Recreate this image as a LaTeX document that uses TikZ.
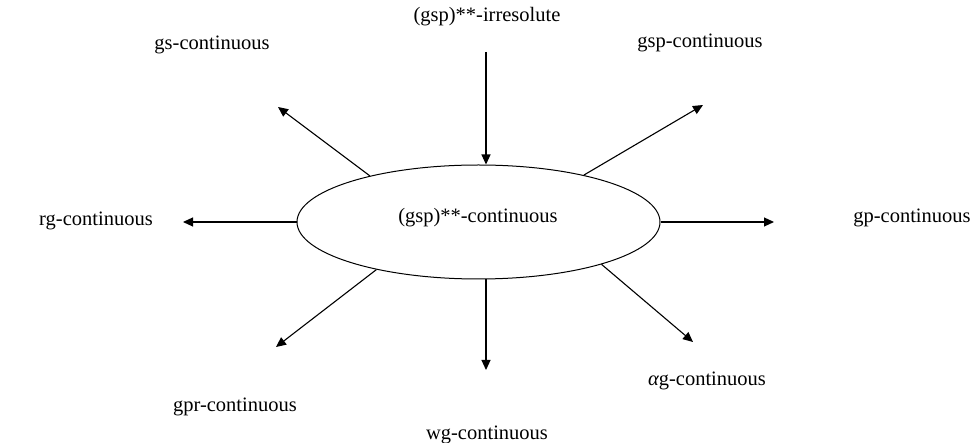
\documentclass[tikz,border=0pt]{standalone}
\usepackage{fontspec}
\setmainfont{Liberation Serif}
\usetikzlibrary{arrows.meta,shapes.geometric}
\begin{document}
\begin{tikzpicture}[x=1pt,y=-1pt,
  lbl/.style={inner sep=0pt,font=\fontsize{20.5}{24}\selectfont},
  arr/.style={line width=1.1pt,-{Triangle[length=10pt,width=9pt]}},
  ell/.style={ellipse,draw,line width=1pt,minimum width=363pt,minimum height=114pt,inner sep=0pt}]
\useasboundingbox (0,0) rectangle (975,443);
\node[ell] (e) at (478.5,222) {};
\node[lbl] (ctr) at (478,218) {(gsp)**-continuous};
\node[lbl] (irr) at (487,17) {(gsp)**-irresolute};
\node[lbl] (gs) at (212,45) {gs-continuous};
\node[lbl] (gsp) at (700,43) {gsp-continuous};
\node[lbl] (rg) at (96,221) {rg-continuous};
\node[lbl] (gp) at (912,218) {gp-continuous};
\node[lbl] (gpr) at (235,407) {gpr-continuous};
\node[lbl] (wg) at (487,435) {wg-continuous};
\node[lbl] (ag) at (707,381) {{\itshape α}g-continuous};
\coordinate (irrs) at (486,52);
\coordinate (gsend) at (278,107);
\coordinate (gspend) at (703,105);
\coordinate (rgend) at (183,222);
\coordinate (gpend) at (774,222);
\coordinate (gprend) at (276,347);
\coordinate (wgend) at (486,370);
\coordinate (agend) at (693,342);
\draw[arr] (irrs) -- (e.north -| irrs);
\draw[arr] (e.157) -- (gsend);
\draw[arr] (e.24) -- (gspend);
\draw[arr] (e.west) -- (rgend);
\draw[arr] (e.east) -- (gpend);
\draw[arr] (e.205) -- (gprend);
\draw[arr] (e.south -| wgend) -- (wgend);
\draw[arr] (e.341) -- (agend);
\end{tikzpicture}
\end{document}
